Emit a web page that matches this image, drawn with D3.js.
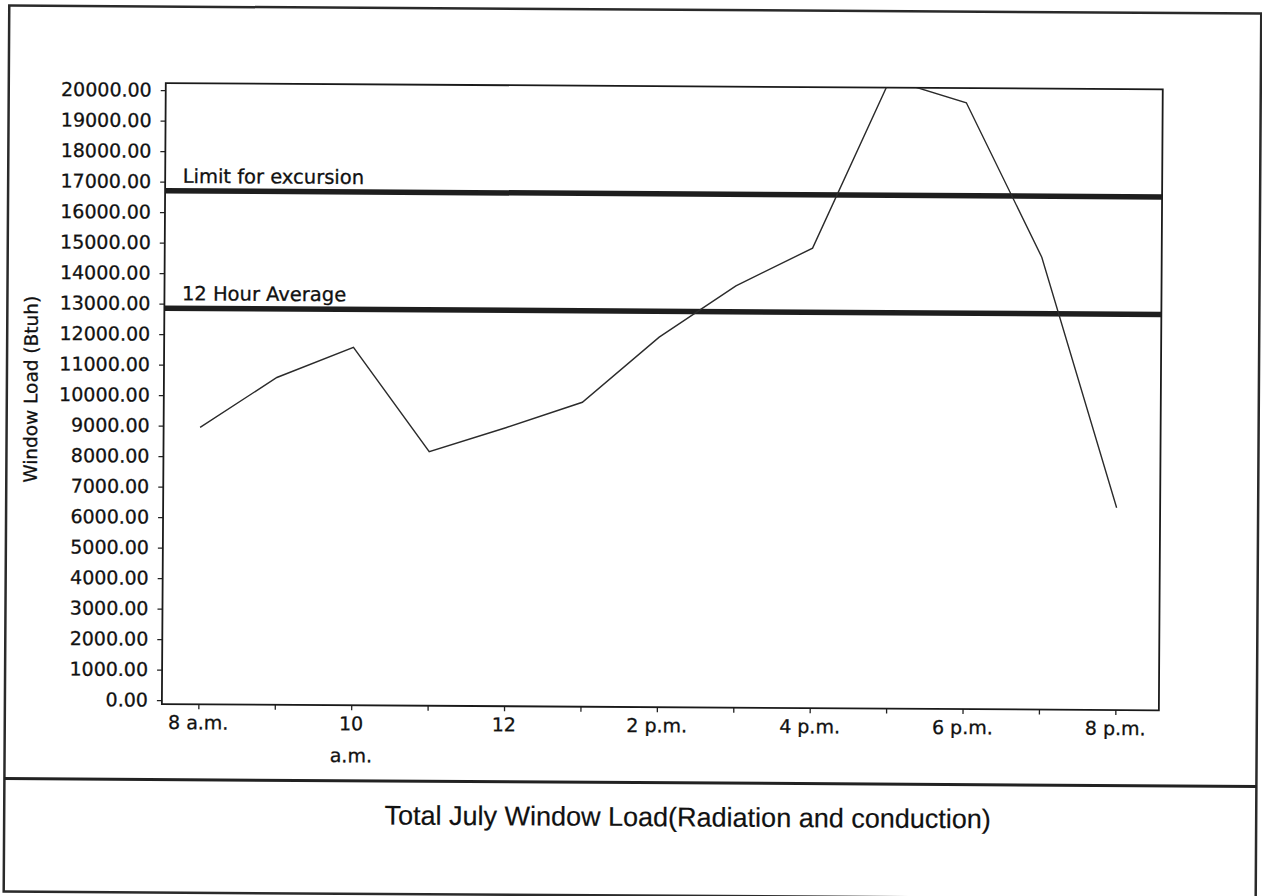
<!DOCTYPE html>
<html>
<head>
<meta charset="utf-8">
<script src="https://cdn.jsdelivr.net/npm/d3@7"></script>
<style>
	body { margin: 0; background: #fff; }
	text { fill: #111; stroke: #111; stroke-width: 0.3px; }
</style>
</head>
<body>
<svg id="chart" width="1262" height="896"></svg>
<script>
// hourly window load, 8 a.m. to 8 p.m.
const hours = [8, 9, 10, 11, 12, 13, 14, 15, 16, 17, 18, 19, 20];
const windowLoad = [8950, 10600, 11600, 8200, 9000, 9850, 12000, 13700, 14950, 20500, 19750, 14700, 6500];

const labelHours = [8, 10, 12, 14, 16, 18, 20];
const hourLabels = [['8 a.m.'], ['10', 'a.m.'], ['12'], ['2 p.m.'], ['4 p.m.'], ['6 p.m.'], ['8 p.m.']];
const loadTicks = [0, 1000, 2000, 3000, 4000, 5000, 6000, 7000, 8000, 9000, 10000,
	11000, 12000, 13000, 14000, 15000, 16000, 17000, 18000, 19000, 20000];

const refNames = ['Limit for excursion', '12 Hour Average'];
const refValues = [16700, 12850];

const chartTitle = 'Total July Window Load(Radiation and conduction)';
const yTitle = 'Window Load (Btuh)';

const plot = { left: 163.5, right: 1160.5, top: 86, bottom: 707 };
const sans = 'DejaVu Sans, sans-serif';

const svg = d3.select('#chart');
// the scanned page is a little tilted
const page = svg.append('g').attr('transform', 'rotate(0.36 631 448)');

page.append('rect')
	.attr('x', 6.5).attr('y', 9.5)
	.attr('width', 1252).attr('height', 886)
	.attr('fill', 'none').attr('stroke', '#2a2a2a').attr('stroke-width', 2.5);

page.append('line')
	.attr('x1', 6.5).attr('x2', 1258.5)
	.attr('y1', 782.5).attr('y2', 782.5)
	.attr('stroke', '#222').attr('stroke-width', 3);

const x = d3.scaleLinear().domain([8, 20]).range([200, 1117]);
const y = d3.scaleLinear().domain([0, 20000]).range([703, 93]);

page.append('defs').append('clipPath').attr('id', 'plotClip')
	.append('rect')
	.attr('x', plot.left).attr('y', plot.top)
	.attr('width', plot.right - plot.left).attr('height', plot.bottom - plot.top);

// y axis
const yAxis = page.append('g')
	.attr('transform', `translate(${ plot.left },0)`)
	.call(d3.axisLeft(y).tickValues(loadTicks).tickFormat(d3.format('.2f'))
		.tickSize(5).tickPadding(9));
yAxis.select('.domain').remove();
yAxis.selectAll('line').attr('stroke', '#222').attr('stroke-width', 1.3);
yAxis.selectAll('text')
	.style('font-family', sans).style('font-size', '19px').attr('fill', '#111');

// x axis: tick every hour, label every two hours
const xAxis = page.append('g')
	.attr('transform', `translate(0,${ plot.bottom })`)
	.call(d3.axisBottom(x).tickValues(hours).tickFormat('').tickSize(5));
xAxis.select('.domain').remove();
xAxis.selectAll('line').attr('stroke', '#222').attr('stroke-width', 1.3);

const xLabels = page.append('g');
labelHours.forEach((h, i) => {
	const t = xLabels.append('text')
		.attr('x', x(h)).attr('y', 732)
		.attr('text-anchor', 'middle')
		.style('font-family', sans).style('font-size', '19px');
	hourLabels[i].forEach((part, j) => {
		t.append('tspan').attr('x', x(h)).attr('dy', j ? 32 : 0).text(part);
	});
});

// plot frame
page.append('rect')
	.attr('x', plot.left).attr('y', plot.top)
	.attr('width', plot.right - plot.left).attr('height', plot.bottom - plot.top)
	.attr('fill', 'none').attr('stroke', '#1a1a1a').attr('stroke-width', 1.8);

// reference lines
refValues.forEach((v, i) => {
	page.append('line')
		.attr('x1', plot.left).attr('x2', plot.right)
		.attr('y1', y(v)).attr('y2', y(v))
		.attr('stroke', '#1e1e1e').attr('stroke-width', 5.5);
	page.append('text')
		.attr('x', 181).attr('y', y(v) - 8)
		.style('font-family', sans).style('font-size', '19.5px')
		.text(refNames[i]);
});

// load curve
const line = d3.line()
	.x((d, i) => x(hours[i]))
	.y((d) => y(d));

page.append('path')
	.datum(windowLoad)
	.attr('clip-path', 'url(#plotClip)')
	.attr('d', line)
	.attr('fill', 'none')
	.attr('stroke', '#2b2b2b')
	.attr('stroke-width', 1.4);

// axis title
page.append('text')
	.attr('transform', 'translate(37,393) rotate(-90)')
	.attr('text-anchor', 'middle')
	.style('font-family', sans).style('font-size', '18.5px')
	.text(yTitle);

// chart title
page.append('text')
	.attr('x', 690).attr('y', 826)
	.attr('text-anchor', 'middle')
	.style('font-family', 'Liberation Sans, Arial, sans-serif').style('font-size', '27px')
	.style('stroke-width', '0.2px')
	.text(chartTitle);
</script>
</body>
</html>
